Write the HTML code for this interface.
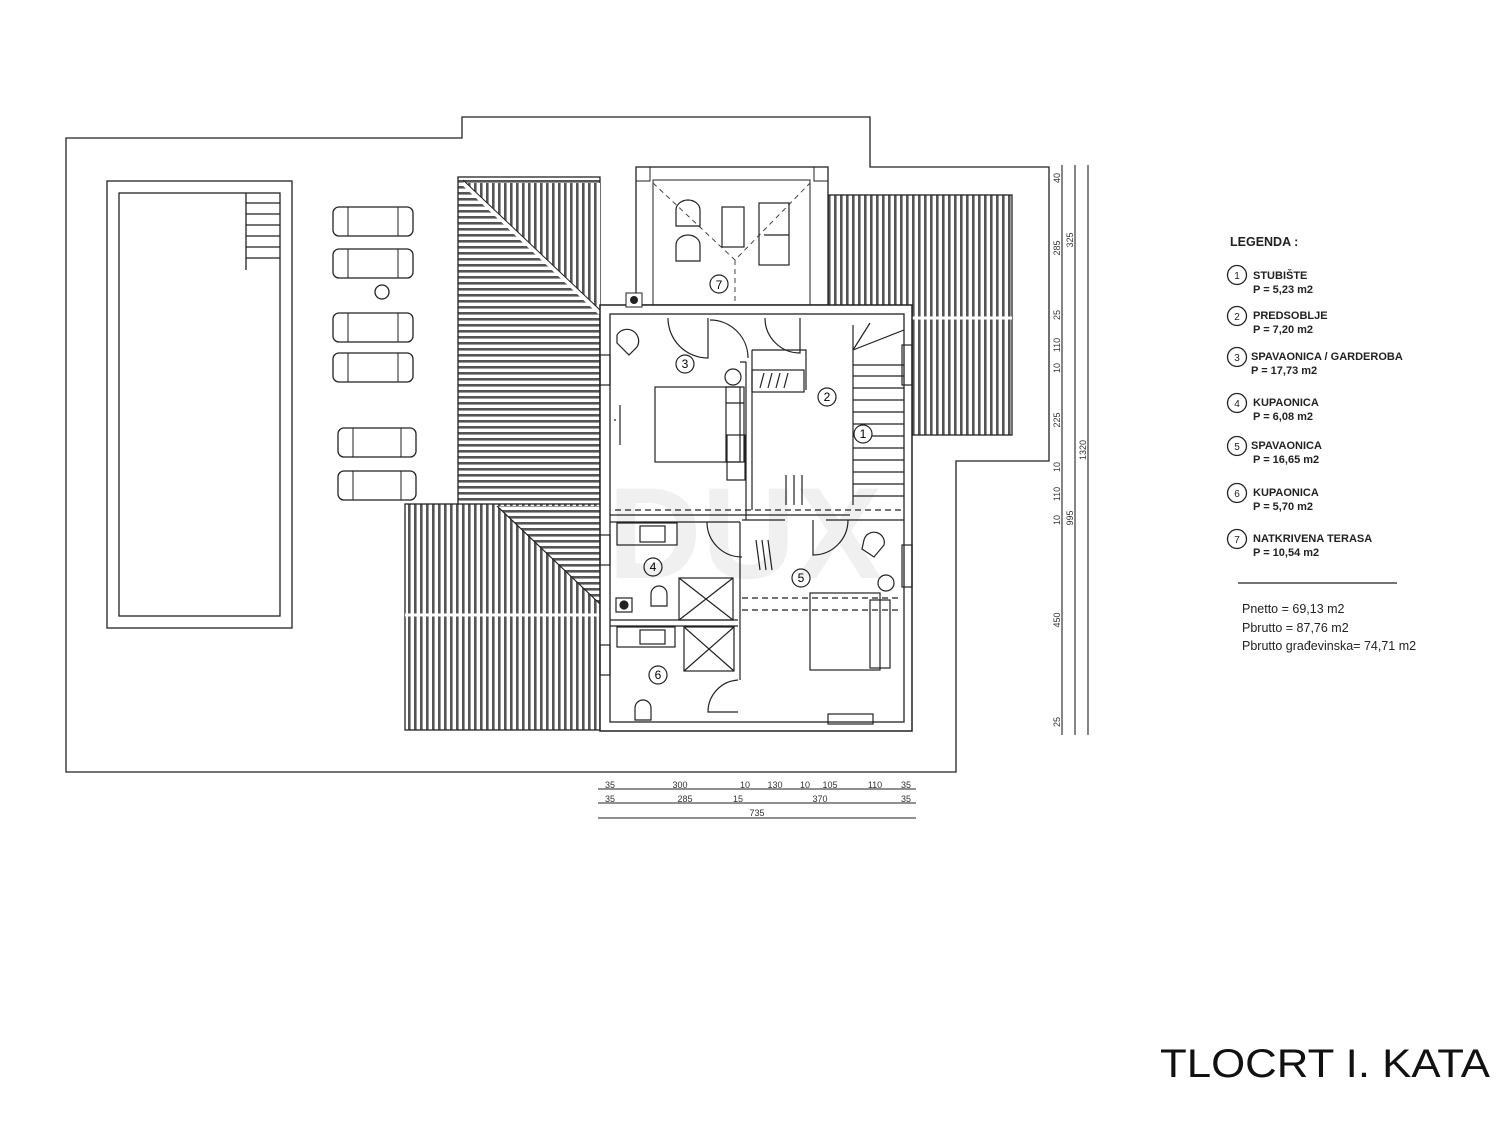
<!DOCTYPE html>
<html><head><meta charset="utf-8"><style>
html,body{margin:0;padding:0;background:#fff;}
svg{display:block;font-family:"Liberation Sans",Arial,sans-serif;}
</style></head><body>
<svg width="1500" height="1125" viewBox="0 0 1500 1125" xmlns="http://www.w3.org/2000/svg">
<defs>
<pattern id="vs" width="6" height="10" patternUnits="userSpaceOnUse"><rect width="6" height="10" fill="#fff"/><rect x="0" y="0" width="2.6" height="10" fill="#555"/></pattern>
<pattern id="hs" width="10" height="6" patternUnits="userSpaceOnUse"><rect width="10" height="6" fill="#fff"/><rect x="0" y="0" width="10" height="2.6" fill="#555"/></pattern>
</defs>
<g fill="none" stroke="#222" stroke-width="1.3">
<polygon points="66,138 462,138 462,117 870,117 870,167 1049,167 1049,461 956,461 956,772 66,772"/>
<rect x="107" y="181" width="185" height="447"/>
<rect x="119" y="193" width="161" height="423"/>
<path d="M246,193 V270 M246,203 H280 M246,214 H280 M246,225 H280 M246,236 H280 M246,247 H280 M246,258 H280"/>
</g>
<g fill="#fff" stroke="#222" stroke-width="1.3">
<rect x="333" y="207" width="80" height="29" rx="6"/><rect x="333" y="249" width="80" height="29" rx="6"/>
<rect x="333" y="313" width="80" height="29" rx="6"/><rect x="333" y="353" width="80" height="29" rx="6"/>
<rect x="338" y="428" width="78" height="29" rx="6"/><rect x="338" y="471" width="78" height="29" rx="6"/>
<circle cx="382" cy="292" r="7"/>
</g>
<g stroke="#222" stroke-width="1" fill="none">
<path d="M348,207 V236 M398,207 V236 M348,249 V278 M398,249 V278 M348,313 V342 M398,313 V342 M348,353 V382 M398,353 V382 M353,428 V457 M401,428 V457 M353,471 V500 M401,471 V500"/>
</g>
<rect x="458" y="177" width="142" height="330" fill="url(#hs)" stroke="#222" stroke-width="1.3"/>
<polygon points="463,183 600,183 600,313" fill="url(#vs)"/>
<line x1="463" y1="183" x2="600" y2="313" stroke="#fff" stroke-width="4"/>
<line x1="463" y1="180" x2="600" y2="310" stroke="#222" stroke-width="1"/>
<rect x="405" y="504" width="195" height="226" fill="url(#vs)" stroke="#222" stroke-width="1.3"/>
<polygon points="497,506 600,506 600,604" fill="url(#hs)"/>
<line x1="497" y1="506" x2="600" y2="604" stroke="#222" stroke-width="1.2"/>
<line x1="405" y1="615" x2="600" y2="615" stroke="#fff" stroke-width="3"/>
<rect x="828" y="195" width="184" height="240" fill="url(#vs)" stroke="#222" stroke-width="1.3"/>
<line x1="828" y1="318" x2="1012" y2="318" stroke="#fff" stroke-width="3"/>
<rect x="636" y="167" width="192" height="138" fill="#fff" stroke="#222" stroke-width="1.3"/>
<rect x="653" y="180" width="157" height="125" fill="none" stroke="#222" stroke-width="1"/>
<rect x="636" y="167" width="14" height="14" fill="none" stroke="#222"/><rect x="814" y="167" width="14" height="14" fill="none" stroke="#222"/>
<path d="M653,183 L735,260 L810,183 M735,260 V305" stroke="#444" stroke-dasharray="5,4" fill="none"/>
<g fill="none" stroke="#222" stroke-width="1.2">
<rect x="722" y="207" width="22" height="40"/><rect x="759" y="203" width="30" height="62"/><line x1="764" y1="235" x2="789" y2="235"/>
<path d="M676,210 a12,10 0 0,1 24,0 v16 h-24 z"/><path d="M676,245 a12,10 0 0,1 24,0 v16 h-24 z"/>
<circle cx="719" cy="284" r="9"/>
</g>
<text x="719" y="289" font-size="12" text-anchor="middle">7</text>
<rect x="600" y="305" width="312" height="426" fill="#fff" stroke="#222" stroke-width="1.5"/>
<rect x="610" y="314" width="294" height="408" fill="none" stroke="#222" stroke-width="1.3"/>
<rect x="626" y="293" width="16" height="14" fill="#fff" stroke="#222"/><circle cx="634" cy="300" r="4" fill="#222"/>
<g fill="none" stroke="#222" stroke-width="1.2">
<path d="M746,362 V520 M740,362 H746 M853,325 V505 M752,350 V510 M752,350 H806 V390 M610,515 H850 M610,522 H740 M740,522 V680 M742,520 H785 M610,620 H738 M610,626 H738 M826,520 H904"/>
<path d="M853,365 H904 M853,376 H904 M853,388 H904 M853,400 H904 M853,412 H904 M853,424 H904 M853,436 H904 M853,448 H904 M853,460 H904 M853,472 H904 M853,484 H904 M853,496 H904 M870,323 L853,350 M853,350 L904,330"/>
<path d="M668,318 a40,40 0 0,0 40,40 V318 M710,320 a38,38 0 0,1 38,38 M765,318 a35,35 0 0,0 35,35 V318 M707,522 a35,35 0 0,0 35,35 M813,520 v35 a35,35 0 0,0 35,-35 M738,680 a32,32 0 0,0 -30,32 h30"/>
<rect x="655" y="387" width="85" height="75"/><rect x="726" y="387" width="18" height="75"/><line x1="726" y1="403" x2="744" y2="403"/>
<rect x="727" y="435" width="18" height="45"/>
<rect x="752" y="370" width="52" height="22"/><path d="M760,388 l4,-15 M768,388 l4,-15 M776,388 l4,-15 M784,388 l4,-15"/>
<path d="M786,475 v30 M794,475 v30 M802,475 v30"/>
<circle cx="733" cy="377" r="8"/>
<path d="M617,335 a10,10 0 0,1 20,12 l-8,8 l-12,-12 z"/>
<path d="M620,405 v40 M616,420 l-2,0"/>
<rect x="617" y="523" width="60" height="22"/><rect x="640" y="526" width="25" height="16"/>
<rect x="679" y="578" width="54" height="42"/><path d="M679,578 L733,620 M733,578 L679,620"/>
<path d="M651,606 v-12 a8,8 0 0,1 16,0 v12 z"/>
<rect x="616" y="598" width="16" height="14"/><circle cx="624" cy="605" r="4" fill="#222"/>
<rect x="617" y="627" width="58" height="20"/><rect x="640" y="630" width="25" height="14"/>
<rect x="684" y="627" width="50" height="44"/><path d="M684,627 L734,671 M734,627 L684,671"/>
<path d="M635,720 v-12 a8,8 0 0,1 16,0 v12 z"/>
<rect x="810" y="593" width="70" height="77"/><rect x="870" y="600" width="20" height="68"/>
<circle cx="886" cy="583" r="8"/>
<path d="M864,540 a10,10 0 0,1 20,5 l-10,12 l-12,-8 z"/>
<path d="M756,540 l4,30 M762,540 l4,30 M768,540 l4,30"/>
<path d="M742,598 H900 M742,610 H900" stroke-dasharray="6,4"/>
<path d="M615,510 H904" stroke-dasharray="6,4"/>
<rect x="902" y="345" width="10" height="40"/><rect x="902" y="545" width="10" height="42"/><rect x="600" y="355" width="10" height="30"/><rect x="600" y="535" width="10" height="30"/><rect x="600" y="645" width="10" height="30"/><rect x="828" y="714" width="45" height="10"/>
</g>
<g fill="#fff" stroke="#222" stroke-width="1.2">
<circle cx="685" cy="364" r="9"/><circle cx="827" cy="397" r="9"/><circle cx="863" cy="434" r="9"/><circle cx="653" cy="567" r="9"/><circle cx="801" cy="578" r="9"/><circle cx="658" cy="675" r="9"/>
</g>
<g font-size="12" text-anchor="middle">
<text x="685" y="368">3</text><text x="827" y="401">2</text><text x="863" y="438">1</text><text x="653" y="571">4</text><text x="801" y="582">5</text><text x="658" y="679">6</text>
</g>
<text x="745" y="578" font-size="130" text-anchor="middle" fill="#000" fill-opacity="0.06" font-weight="bold">DUX</text>
<g stroke="#222" stroke-width="1.1" fill="#222">
<line x1="598" y1="789" x2="916" y2="789"/><line x1="598" y1="803" x2="916" y2="803"/><line x1="598" y1="818" x2="916" y2="818"/>
<path d="M1062,165 V735 M1075,165 V735 M1088,165 V735"/>
</g>
<g font-size="9" fill="#333" text-anchor="middle">
<text x="610" y="788">35</text><text x="680" y="788">300</text><text x="745" y="788">10</text><text x="775" y="788">130</text><text x="805" y="788">10</text><text x="830" y="788">105</text><text x="875" y="788">110</text><text x="906" y="788">35</text>
<text x="610" y="802">35</text><text x="685" y="802">285</text><text x="738" y="802">15</text><text x="820" y="802">370</text><text x="906" y="802">35</text>
<text x="757" y="816">735</text>
</g>
<g font-size="9" fill="#333" text-anchor="middle">
<text transform="translate(1060,178) rotate(-90)">40</text><text transform="translate(1060,248) rotate(-90)">285</text><text transform="translate(1060,315) rotate(-90)">25</text><text transform="translate(1060,345) rotate(-90)">110</text><text transform="translate(1060,368) rotate(-90)">10</text><text transform="translate(1060,420) rotate(-90)">225</text><text transform="translate(1060,467) rotate(-90)">10</text><text transform="translate(1060,494) rotate(-90)">110</text><text transform="translate(1060,520) rotate(-90)">10</text><text transform="translate(1060,620) rotate(-90)">450</text><text transform="translate(1060,722) rotate(-90)">25</text>
<text transform="translate(1073,240) rotate(-90)">325</text><text transform="translate(1073,518) rotate(-90)">995</text><text transform="translate(1086,450) rotate(-90)">1320</text>
</g>
<g font-size="12.5" fill="#222">
<text x="1230" y="246" font-weight="bold">LEGENDA :</text>
<g fill="none" stroke="#222" stroke-width="1.3">
<circle cx="1237" cy="275" r="9.5"/><circle cx="1237" cy="316" r="9.5"/><circle cx="1237" cy="357" r="9.5"/><circle cx="1237" cy="403" r="9.5"/><circle cx="1237" cy="446" r="9.5"/><circle cx="1237" cy="493" r="9.5"/><circle cx="1237" cy="539" r="9.5"/>
</g>
<g font-size="10" text-anchor="middle"><text x="1237" y="279">1</text><text x="1237" y="320">2</text><text x="1237" y="361">3</text><text x="1237" y="407">4</text><text x="1237" y="450">5</text><text x="1237" y="497">6</text><text x="1237" y="543">7</text></g>
<g font-size="11" font-weight="bold">
<text x="1253" y="279">STUBIŠTE</text><text x="1253" y="293">P = 5,23 m2</text>
<text x="1253" y="319">PREDSOBLJE</text><text x="1253" y="333">P = 7,20 m2</text>
<text x="1251" y="360">SPAVAONICA / GARDEROBA</text><text x="1251" y="374">P = 17,73 m2</text>
<text x="1253" y="406">KUPAONICA</text><text x="1253" y="420">P = 6,08 m2</text>
<text x="1251" y="449">SPAVAONICA</text><text x="1253" y="463">P = 16,65 m2</text>
<text x="1253" y="496">KUPAONICA</text><text x="1253" y="510">P = 5,70 m2</text>
<text x="1253" y="542">NATKRIVENA TERASA</text><text x="1253" y="556">P = 10,54 m2</text>
</g>
<line x1="1238" y1="583" x2="1397" y2="583" stroke="#222" stroke-width="1.2"/>
<text x="1242" y="613">Pnetto = 69,13 m2</text>
<text x="1242" y="632">Pbrutto = 87,76 m2</text>
<text x="1242" y="650">Pbrutto građevinska= 74,71 m2</text>
</g>
<text x="1160" y="1077" font-size="40" fill="#111" textLength="330" lengthAdjust="spacingAndGlyphs">TLOCRT I. KATA</text>
</svg>
</body></html>
